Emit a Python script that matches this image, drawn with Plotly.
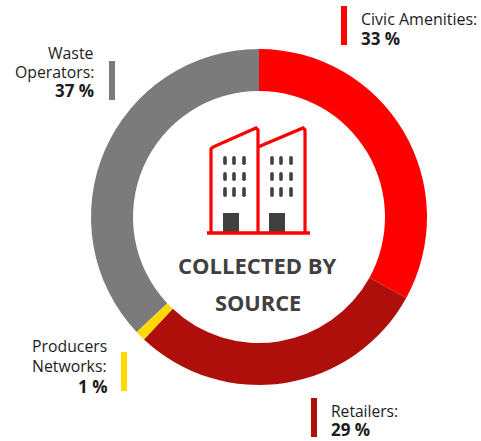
import plotly.graph_objects as go

categories = ["Civic Amenities", "Retailers", "Producers Networks", "Waste Operators"]
values = [33, 29, 1, 37]
colors = ["#ff0000", "#ae0f0a", "#ffd900", "#7b7b7b"]

W, H = 481, 441
FONT = "Open Sans"
def px(x): return x / W
def py(y): return 1 - y / H

fig = go.Figure(go.Pie(
    labels=categories, values=values, sort=False, direction="clockwise", rotation=0,
    hole=0.75, marker=dict(colors=colors, line=dict(width=0)), textinfo="none",
    showlegend=False, hoverinfo="label+percent",
    domain=dict(x=[px(91), px(427)], y=[py(385), py(49)]),
))

shapes = []
def rect(x0, y0, x1, y1, color):
    shapes.append(dict(type="rect", xref="paper", yref="paper", x0=px(x0), x1=px(x1),
                       y0=py(y0), y1=py(y1), fillcolor=color, line=dict(width=0)))
def path(pts, color, w):
    d = "M " + " L ".join(f"{px(x):.5f},{py(y):.5f}" for x, y in pts)
    shapes.append(dict(type="path", xref="paper", yref="paper", path=d,
                       line=dict(color=color, width=w), fillcolor="rgba(0,0,0,0)"))
def window(x, y0, y1, color):
    r = 1.8
    p = lambda a, b: f"{px(a):.5f},{py(b):.5f}"
    d = (f"M {p(x - r, y0 + r)} Q {p(x - r, y0)} {p(x, y0)} Q {p(x + r, y0)} {p(x + r, y0 + r)} "
         f"L {p(x + r, y1 - r)} Q {p(x + r, y1)} {p(x, y1)} Q {p(x - r, y1)} {p(x - r, y1 - r)} Z")
    shapes.append(dict(type="path", xref="paper", yref="paper", path=d,
                       fillcolor=color, line=dict(width=0)))

# legend bars
rect(341, 6, 347, 45, "#ff0000")
rect(311, 398, 317, 437, "#ae0f0a")
rect(121, 352, 127, 391, "#ffd900")
rect(109, 61, 115, 100, "#7b7b7b")

# building icon
dark = "#404040"
for x0 in (223, 269):
    rect(x0, 213, x0 + 16, 232, dark)
for xs in ((225, 234, 244), (272, 281, 291)):
    for x in xs:
        for y0, y1 in ((156, 165), (172, 181), (187, 197)):
            window(x, y0, y1, dark)
path([(211, 233), (211, 149), (213, 147), (256, 128), (258, 130), (258, 233)], "#ff0000", 3.2)
path([(258, 147), (303, 128), (305, 130), (305, 233)], "#ff0000", 3.2)
path([(207, 233), (310, 233)], "#ff0000", 3.5)

def note(x, y, text, anchor, size=16, color="#1c1c1c"):
    fig.add_annotation(xref="paper", yref="paper", x=px(x), y=py(y), text=text,
                       showarrow=False, xanchor=anchor, yanchor="middle", align=anchor,
                       font=dict(family=FONT, size=size, color=color))

note(359, 19, "Civic Amenities:", "left", 16)
note(359, 39, "<b>33 %</b>", "left", 17)
note(329, 411, "Retailers:", "left", 15.6)
note(329, 429.5, "<b>29 %</b>", "left", 17)
note(109, 346, "Producers", "right", 15.8)
note(109, 366, "Networks:", "right", 15.8)
note(109, 386, "<b>1 %</b>", "right", 17)
note(96, 53, "Waste", "right", 15.8)
note(96, 72, "Operators:", "right", 15.8)
note(96, 91, "<b>37 %</b>", "right", 17)
note(257.5, 265, "<b>COLLECTED BY</b>", "center", 22, dark)
note(258, 302, "<b>SOURCE</b>", "center", 21.8, dark)

fig.update_layout(width=W, height=H, margin=dict(l=0, r=0, t=0, b=0),
                  paper_bgcolor="white", shapes=shapes, font=dict(family=FONT))
fig.write_html("out.html", config=dict(displayModeBar=False),
               post_script="document.body.style.margin='0';document.documentElement.style.overflow='hidden';")
